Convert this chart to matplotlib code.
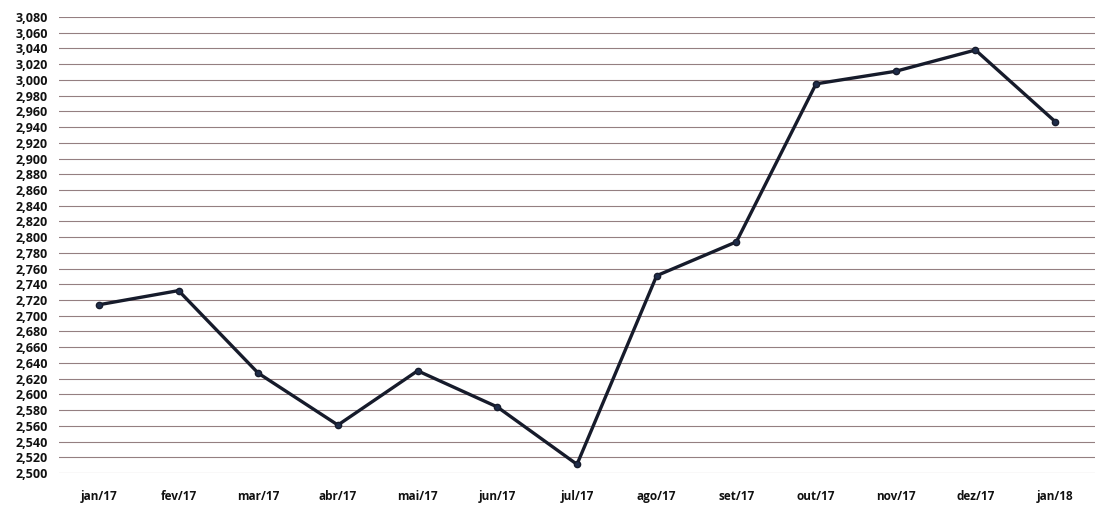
import matplotlib
matplotlib.use("Agg")
import matplotlib.pyplot as plt
import numpy as np

categories = ["jan/17", "fev/17", "mar/17", "abr/17", "mai/17", "jun/17", "jul/17",
              "ago/17", "set/17", "out/17", "nov/17", "dez/17", "jan/18"]
values = [2714, 2732, 2627, 2561, 2630, 2584, 2511, 2751, 2794, 2995, 3011, 3038, 2947]
yticks = list(range(2500, 3081, 20))
ytick_labels = [f"{v:,}" for v in yticks]

fig = plt.figure(figsize=(11.01, 5.07), dpi=100)
ax = fig.add_axes([59/1101, (507-473)/507, (1095-59)/1101, (473-17)/507])
x = np.arange(len(categories))
ax.plot(x, values, color="#161b2b", lw=2.4, marker="o", ms=4.5,
        markerfacecolor="#1f2d4a", markeredgecolor="#161b2b", zorder=3)
ax.set_xlim(-0.5, len(categories) - 0.5)
ax.set_ylim(2500, 3080)
ax.set_yticks(yticks)
ax.set_yticklabels(ytick_labels)
ax.set_xticks(x)
ax.set_xticklabels(categories)
for s in ax.spines.values():
    s.set_visible(False)
ax.tick_params(axis="both", length=0, colors="#111111")
ax.tick_params(axis="y", pad=8, labelsize=9)
ax.tick_params(axis="x", pad=12, labelsize=8.5)
for lab in ax.get_xticklabels() + ax.get_yticklabels():
    lab.set_fontfamily("Open Sans")
    lab.set_fontweight("bold")
ax.yaxis.grid(True, color="#7a5f62", lw=0.8, alpha=0.8)
ax.set_axisbelow(True)
fig.savefig("out.png", dpi=100, facecolor="white")
